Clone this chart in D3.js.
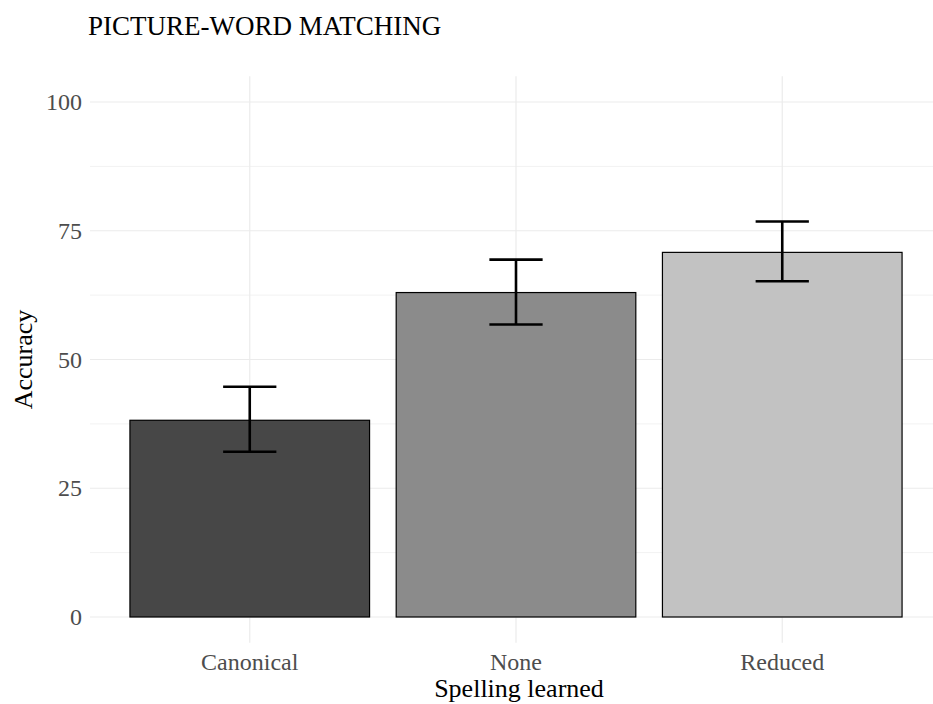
<!DOCTYPE html>
<html>
<head>
<meta charset="utf-8">
<script src="https://cdn.jsdelivr.net/npm/d3@7"></script>
<style>
  html, body { margin: 0; padding: 0; background: #fff; }
  svg { display: block; }
  text { font-family: "Liberation Serif", "Times New Roman", serif; }
</style>
</head>
<body>
<svg id="chart" width="933" height="704"></svg>
<script>
// Accuracy by spelling condition, with error bars
const categories = ["Canonical", "None", "Reduced"];
const accuracy   = [38.2, 63.0, 70.8];
const errLower   = [32.1, 56.8, 65.2];
const errUpper   = [44.7, 69.4, 76.8];
const fills      = ["#474747", "#8b8b8b", "#c2c2c2"];
const yTicks     = [0, 25, 50, 75, 100];
const yMinor     = [12.5, 37.5, 62.5, 87.5];

const svg = d3.select("#chart");

const x = d3.scaleBand()
  .domain(categories)
  .range([90, 942])
  .paddingInner(0.1)
  .paddingOuter(0.15);

const y = d3.scaleLinear().domain([0, 100]).range([617, 102]);

const panelTop = y(105), panelBottom = y(-5);
const panelLeft = 90, panelRight = 942;

// grid
const grid = svg.append("g");
grid.selectAll("line.minor").data(yMinor).join("line")
  .attr("x1", panelLeft).attr("x2", panelRight)
  .attr("y1", d => y(d)).attr("y2", d => y(d))
  .attr("stroke", "#f2f2f2").attr("stroke-width", 1);
grid.selectAll("line.major").data(yTicks).join("line")
  .attr("x1", panelLeft).attr("x2", panelRight)
  .attr("y1", d => y(d)).attr("y2", d => y(d))
  .attr("stroke", "#ebebeb").attr("stroke-width", 1.2);
grid.selectAll("line.vert").data(categories).join("line")
  .attr("x1", d => x(d) + x.bandwidth() / 2).attr("x2", d => x(d) + x.bandwidth() / 2)
  .attr("y1", panelTop).attr("y2", panelBottom)
  .attr("stroke", "#ebebeb").attr("stroke-width", 1.2);

// bars
svg.append("g").selectAll("rect").data(categories).join("rect")
  .attr("x", d => x(d))
  .attr("width", x.bandwidth())
  .attr("y", (d, i) => y(accuracy[i]))
  .attr("height", (d, i) => y(0) - y(accuracy[i]))
  .attr("fill", (d, i) => fills[i])
  .attr("stroke", "#000").attr("stroke-width", 1.2);

// error bars
const capHalf = x.step() * 0.1;
const eb = svg.append("g").attr("stroke", "#000").attr("stroke-width", 2.6).attr("fill", "none");
categories.forEach((c, i) => {
  const cx = x(c) + x.bandwidth() / 2;
  eb.append("line").attr("x1", cx).attr("x2", cx).attr("y1", y(errLower[i])).attr("y2", y(errUpper[i]));
  eb.append("line").attr("x1", cx - capHalf).attr("x2", cx + capHalf).attr("y1", y(errUpper[i])).attr("y2", y(errUpper[i]));
  eb.append("line").attr("x1", cx - capHalf).attr("x2", cx + capHalf).attr("y1", y(errLower[i])).attr("y2", y(errLower[i]));
});

// y axis
const yAxis = svg.append("g").attr("transform", `translate(${panelLeft},0)`)
  .call(d3.axisLeft(y).tickValues(yTicks).tickSize(0).tickPadding(8));
yAxis.select(".domain").remove();
yAxis.selectAll("text").attr("font-size", 24).attr("fill", "#4d4d4d")
  .attr("font-family", "Liberation Serif, Times New Roman, serif");

// x axis
const xAxis = svg.append("g").attr("transform", `translate(0,${panelBottom})`)
  .call(d3.axisBottom(x).tickSize(0).tickPadding(10));
xAxis.select(".domain").remove();
xAxis.selectAll("text").attr("font-size", 24).attr("fill", "#4d4d4d")
  .attr("font-family", "Liberation Serif, Times New Roman, serif");

// titles
svg.append("text").attr("x", 88).attr("y", 35)
  .attr("font-size", 27).attr("fill", "#000").text("PICTURE-WORD MATCHING");

svg.append("text").attr("x", 519).attr("y", 697)
  .attr("text-anchor", "middle").attr("font-size", 26).attr("fill", "#000")
  .text("Spelling learned");

svg.append("text")
  .attr("transform", `translate(32,${(panelTop + panelBottom) / 2}) rotate(-90)`)
  .attr("text-anchor", "middle").attr("font-size", 26).attr("fill", "#000")
  .text("Accuracy");
</script>
</body>
</html>
